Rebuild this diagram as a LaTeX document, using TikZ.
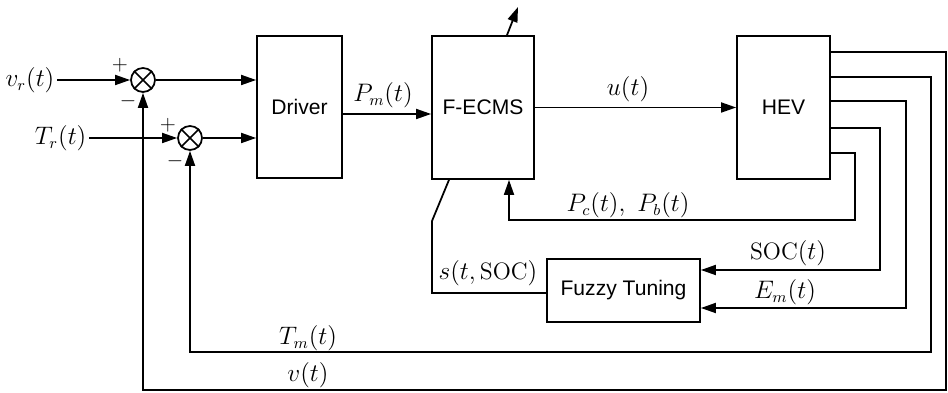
\documentclass[tikz,border=0pt]{standalone}
\usepackage{amsmath}
\usepackage{fontspec}
\setsansfont{Liberation Sans}
\usetikzlibrary{arrows.meta}

\begin{document}
\begin{tikzpicture}[line width=1pt,
        >={Triangle[length=3mm,width=2mm]},
        block/.style={draw,inner sep=0pt,font=\sffamily\fontsize{12}{14}\selectfont},
        sumj/.style={draw,circle,minimum size=0.48cm,inner sep=0pt},
        lbl/.style={font=\fontsize{13.5}{16}\selectfont,inner sep=1pt},
        sgn/.style={font=\large,inner sep=0pt}]
        \useasboundingbox (0,0) rectangle (18.96,-7.86);

        % blocks
        \node[block,minimum width=1.7cm,minimum height=2.84cm] (drv) at (5.99,-2.14) {Driver};
        \node[block,minimum width=2.04cm,minimum height=2.86cm] (fecms) at (9.66,-2.15) {F-ECMS};
        \node[block,minimum width=1.86cm,minimum height=2.86cm] (hev) at (15.67,-2.15) {HEV};
        \node[block,minimum width=3.06cm,minimum height=1.26cm] (fuzzy) at (12.47,-5.81) {Fuzzy Tuning};

        % summing junctions
        \node[sumj] (sumv) at (2.86,-1.6) {};
        \node[sumj] (sumt) at (3.8,-2.76) {};
        \foreach \s in {sumv,sumt}
            \draw (\s.north west) -- (\s.south east) (\s.north east) -- (\s.south west);
        \node[sgn] (plv) at (2.4,-1.3) {$+$};
        \node[sgn] (miv) at (2.56,-2.02) {$-$};
        \node[sgn] (plt) at (3.36,-2.5) {$+$};
        \node[sgn] (mit) at (3.5,-3.22) {$-$};

        % inputs
        \node[lbl,anchor=east] (vr) at (1.14,-1.6) {$v_r(t)$};
        \node[lbl,anchor=east] (tr) at (1.78,-2.76) {$T_r(t)$};
        \draw[->] (vr.east) -- (sumv.west);
        \draw[->] (tr.east) -- (sumt.west);
        \draw[->] (sumv.east) -- (sumv.east -| drv.west);
        \draw[->] (sumt.east) -- (sumt.east -| drv.west);

        % forward path
        \draw[->] ([yshift=-0.14cm]drv.east) -- ([yshift=-0.14cm]drv.east -| fecms.west);
        \node[lbl] (pm) at (7.66,-1.9) {$P_m(t)$};
        \draw[->] (fecms.east) -- (hev.west);
        \node[lbl] (ut) at (12.56,-1.78) {$u(t)$};
        \coordinate (out) at (10.36,-0.14);
        \draw[->] ([xshift=0.48cm]fecms.north) -- (out);

        % feedback from HEV
        \coordinate (c1) at (18.92,-7.8);
        \coordinate (c2) at (18.62,-7.04);
        \coordinate (c3) at (18.12,-6.16);
        \coordinate (c4) at (17.6,-5.4);
        \coordinate (c5) at (17.1,-4.4);
        \draw[->] ([yshift=1.11cm]hev.east) -| (c1) -| (sumv.south);
        \draw[->] ([yshift=0.61cm]hev.east) -| (c2) -| (sumt.south);
        \draw[->] ([yshift=0.13cm]hev.east) -| (c3) -- (c3 -| fuzzy.east);
        \draw[->] ([yshift=-0.41cm]hev.east) -| (c4) -- (c4 -| fuzzy.east);
        \draw[->] ([yshift=-0.91cm]hev.east) -| (c5) -| ([xshift=0.52cm]fecms.south);
        \node[lbl] (vt) at (6.16,-7.5) {$v(t)$};
        \node[lbl] (tm) at (6.16,-6.76) {$T_m(t)$};
        \node[lbl] (em) at (15.7,-5.84) {$E_m(t)$};
        \node[lbl] (soc) at (15.76,-5.06) {$\mathrm{SOC}(t)$};
        \node[lbl] (pcb) at (12.56,-4.1) {$P_c(t),\ P_b(t)$};

        % tuning signal
        \coordinate (sw) at (8.64,-4.42);
        \draw ([yshift=-0.05cm]fuzzy.west) -| (sw) -- ([xshift=-0.68cm]fecms.south);
        \node[lbl] (st) at (9.76,-5.46) {$s(t,\mathrm{SOC})$};
\end{tikzpicture}
\end{document}
